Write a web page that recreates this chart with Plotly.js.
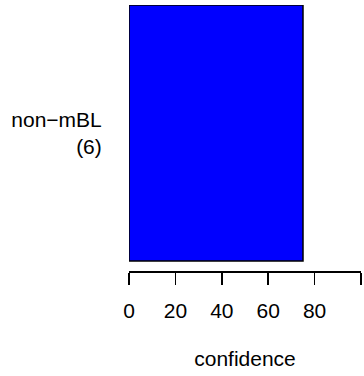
<!DOCTYPE html>
<html>
<head>
<meta charset="utf-8">
<script src="https://cdn.plot.ly/plotly-3.0.1.min.js"></script>
<style>html,body{margin:0;padding:0;background:#fff;}#chart{width:364px;height:376px;}</style>
</head>
<body>
<div id="chart"></div>
<script>
var categories = ['non\u2212mBL'];
var counts = [6];
var confidence = [75];
var xTickValues = [0, 20, 40, 60, 80, 100];
var xTickLabels = ['0', '20', '40', '60', '80', ''];

var labels = categories.map(function (c, i) { return c + '<br>(' + counts[i] + ')'; });
var ypos = categories.map(function (c, i) { return i; });

var trace = {
  type: 'bar',
  orientation: 'h',
  x: confidence,
  y: ypos,
  width: 1,
  marker: { color: '#0000FF', line: { color: '#000000', width: 1.5 } },
  hoverinfo: 'none'
};

var font = { family: 'Liberation Sans, Arial, sans-serif', size: 21, color: '#000' };

var layout = {
  width: 364, height: 376,
  margin: { l: 129, r: 3, t: 5, b: 105 },
  paper_bgcolor: '#fff', plot_bgcolor: '#fff',
  font: font,
  showlegend: false,
  xaxis: {
    range: [0, 100],
    tickvals: xTickValues,
    ticktext: xTickLabels,
    ticks: 'outside', ticklen: 12, tickwidth: 1.5, tickcolor: '#000',
    ticklabelstandoff: 8,
    showline: true, linecolor: '#000', linewidth: 1.5,
    showgrid: false, zeroline: false,
    tickfont: font,
    title: { text: 'confidence', font: font, standoff: 30 }
  },
  yaxis: {
    range: [-0.539, 0.5],
    tickvals: ypos,
    ticktext: labels,
    ticks: 'outside', ticklen: 22, tickcolor: 'rgba(0,0,0,0)',
    showline: false, showgrid: false, zeroline: false,
    tickfont: font
  }
};

Plotly.newPlot('chart', [trace], layout, { staticPlot: true, displayModeBar: false });
</script>
</body>
</html>
